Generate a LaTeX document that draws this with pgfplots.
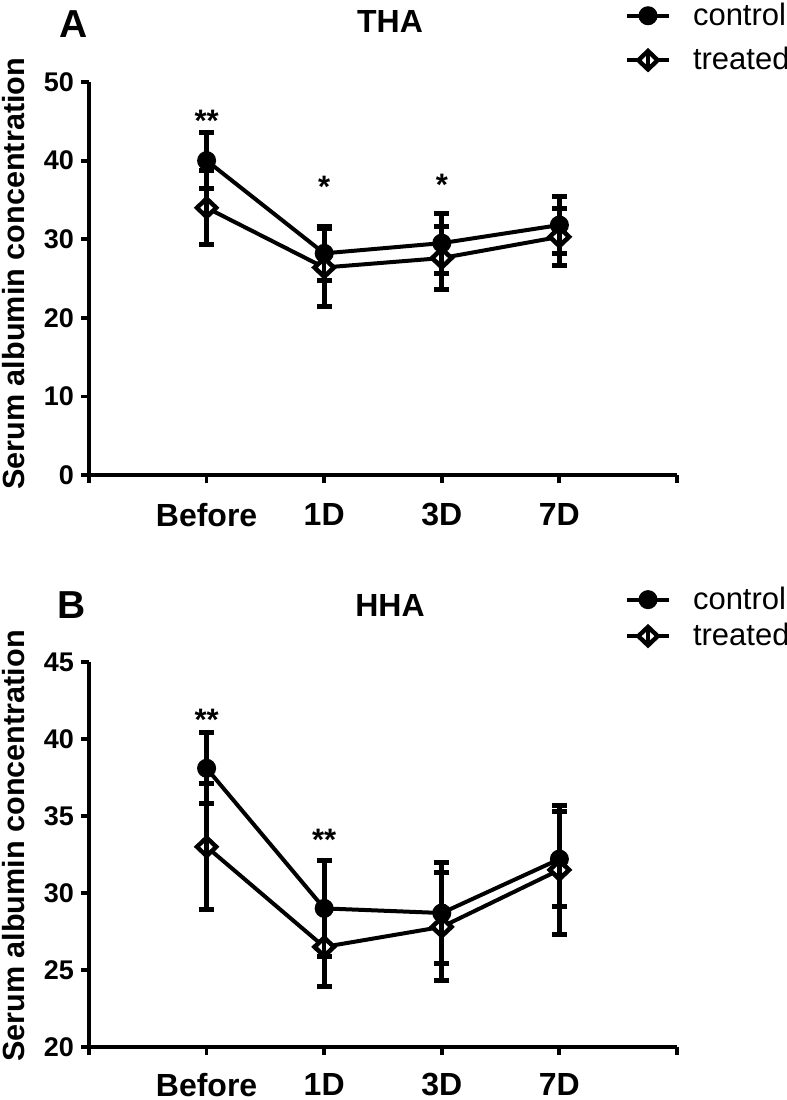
\documentclass[border=0pt]{standalone}
\usepackage{fontspec}
\setmainfont{Liberation Sans}
\usepackage{pgfplots}
\usepackage{pgfplotstable}
\pgfplotsset{compat=1.18}

\pgfplotstableread{
x y e
0 40.0 3.6
1 28.2 3.4
2 29.5 3.8
3 31.8 3.6
}\ctrlA
\pgfplotstableread{
x y e
0 34.0 4.7
1 26.4 5.0
2 27.6 4.0
3 30.3 3.6
}\trtA
\pgfplotstableread{
x y e
0 38.1 2.3
1 29.0 3.1
2 28.7 3.3
3 32.2 3.1
}\ctrlB
\pgfplotstableread{
x y e
0 33.0 4.1
1 26.5 2.6
2 27.8 3.5
3 31.5 4.2
}\trtB

\pgfdeclareplotmark{tdiamond}{%
  \pgfpathmoveto{\pgfqpoint{0pt}{\pgfplotmarksize}}%
  \pgfpathlineto{\pgfqpoint{1.05\pgfplotmarksize}{0pt}}%
  \pgfpathlineto{\pgfqpoint{0pt}{-\pgfplotmarksize}}%
  \pgfpathlineto{\pgfqpoint{-1.05\pgfplotmarksize}{0pt}}%
  \pgfpathclose
  \pgfusepathqfillstroke
  \pgfsetlinewidth{2.3pt}%
  \pgfpathmoveto{\pgfqpoint{0pt}{\pgfplotmarksize}}%
  \pgfpathlineto{\pgfqpoint{0pt}{-\pgfplotmarksize}}%
  \pgfusepathqstroke
}

\tikzset{sigstar/.style={font=\bfseries\fontsize{15.5}{17}\selectfont, anchor=base}}

\pgfplotsset{
  legend image code/.code={\draw[mark repeat=2,mark phase=2,#1] plot coordinates {(0pt,0pt)(10.5pt,0pt)(21pt,0pt)};},
  myaxis/.style={
    scale only axis, width=294pt,
    xmin=-1, xmax=4,
    axis x line*=bottom, axis y line*=left,
    axis line style={line width=1.9pt, -},
    every tick/.style={line width=1.9pt, black},
    major tick length=4pt, tick align=outside,
    xtick={-1,0,1,2,3,4}, xticklabels={,Before,1D,3D,7D,},
    /pgf/number format/assume math mode=true,
    xticklabel style={font=\bfseries\fontsize{16}{18}\selectfont, yshift=-6.5pt},
    yticklabel style={font=\bfseries\fontsize{13.5}{15}\selectfont},
    ylabel={Serum albumin concentration},
    ylabel style={font=\bfseries\fontsize{15.3}{17}\selectfont, anchor=center},
    title style={font=\bfseries\fontsize{16}{18}\selectfont, anchor=center, yshift=-6pt},
    clip=false,
    legend style={draw=none, fill=none, font=\fontsize{15.5}{18}\selectfont,
      anchor=north west, inner sep=0pt, outer sep=0pt, nodes={inner sep=0pt},
      /tikz/every odd column/.append style={column sep=11pt}},
    legend cell align=left,
  },
  ctrl/.style={black, line width=2pt, mark=*, mark size=4.25pt,
    mark options={solid, fill=black, line width=1pt}},
  trt/.style={black, line width=2pt, mark=tdiamond, mark size=4.6pt,
    mark options={solid, fill=white, line width=2.2pt}},
  ebar/.style={forget plot, draw=none, mark=none,
    error bars/.cd, y dir=both, y explicit,
    error bar style={draw=black, line width=2.5pt},
    error mark options={rotate=90, draw=black, line width=2.5pt, mark size=3.75pt}},
}

\begin{document}
\begin{tikzpicture}
\path[use as bounding box] (0,0) rectangle (393.5pt,550pt);

\begin{axis}[myaxis,
  at={(44.5pt,312.5pt)}, anchor=south west, height=196.5pt,
  ymin=0, ymax=50, ytick={0,10,20,30,40,50},
  title={THA}, title style={at={(axis description cs:0.512,1.153)}},
  ylabel style={at={(axis description cs:-0.1276,0.512)}},
  legend style={at={(axis description cs:0.9116,1.201)}, row sep=9.5pt},
]
\addplot[ebar] table[x=x, y=y, y error=e] {\ctrlA};
\addplot[ebar] table[x=x, y=y, y error=e] {\trtA};
\addplot[ctrl] table[x=x, y=y] {\ctrlA};
\addplot[trt] table[x=x, y=y] {\trtA};
\legend{control, treated}
\node[sigstar] at (axis cs:0,43.75) {**};
\node[sigstar] at (axis cs:1,35.25) {*};
\node[sigstar] at (axis cs:2,35.5) {*};
\node[font=\bfseries\fontsize{19.5}{22}\selectfont] at (axis description cs:-0.0255,1.148) {A};
\end{axis}

\begin{axis}[myaxis,
  at={(44.5pt,26.5pt)}, anchor=south west, height=192.5pt,
  ymin=20, ymax=45, ytick={20,25,30,35,40,45},
  xticklabel style={yshift=1pt},
  title={HHA}, title style={at={(axis description cs:0.512,1.148)}},
  ylabel style={at={(axis description cs:-0.1276,0.522)}},
  legend style={at={(axis description cs:0.9116,1.195)}, row sep=5.5pt},
]
\addplot[ebar] table[x=x, y=y, y error=e] {\ctrlB};
\addplot[ebar] table[x=x, y=y, y error=e] {\trtB};
\addplot[ctrl] table[x=x, y=y] {\ctrlB};
\addplot[trt] table[x=x, y=y] {\trtB};
\legend{control, treated}
\node[sigstar] at (axis cs:0,40.57) {**};
\node[sigstar] at (axis cs:1,32.77) {**};
\node[font=\bfseries\fontsize{19.5}{22}\selectfont] at (axis description cs:-0.029,1.148) {B};
\end{axis}
\end{tikzpicture}
\end{document}
